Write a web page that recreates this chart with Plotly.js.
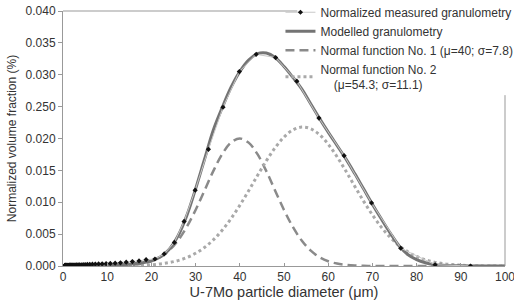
<!DOCTYPE html>
<html><head><meta charset="utf-8">
<script src="https://cdn.plot.ly/plotly-3.0.1.min.js"></script>
<style>html,body{margin:0;padding:0;background:#fff}#c{width:514px;height:303px}</style>
</head><body><div id="c"></div>
<script>
// Measured granulometry (diameter µm, normalized volume fraction)
const measD = [0.42,0.46,0.51,0.56,0.61,0.68,0.74,0.82,0.9,0.99,1.09,1.2,1.32,1.45,1.59,1.75,1.93,2.12,2.33,2.57,2.82,3.1,3.42,3.76,4.13,4.55,5.0,5.5,6.05,6.65,7.32,8.05,8.86,9.75,10.7,11.8,13.0,14.3,15.7,17.2,18.8,20.8,22.9,25.2,27.4,29.9,32.9,36.2,39.9,43.7,48.1,52.9,57.9,63.6,69.8,76.4,84.2,92.2];
const measV = [0.00012,0.00012,0.00012,0.00012,0.00012,0.00012,0.00012,0.00012,0.00012,0.00012,0.00012,0.00012,0.00012,0.00013,0.00013,0.00013,0.00014,0.00014,0.00015,0.00015,0.00016,0.00017,0.00018,0.00019,0.0002,0.00021,0.00022,0.00024,0.00026,0.00028,0.0003,0.00032,0.00034,0.00037,0.0004,0.00045,0.0005,0.0006,0.0007,0.0008,0.0010,0.0011,0.0019,0.0037,0.0070,0.0119,0.0183,0.0249,0.0305,0.0332,0.0327,0.0290,0.0232,0.0173,0.0099,0.0028,0.0002,0.0000];

// Curves sampled every 2 µm (0..100)
const gridD = [0,2,4,6,8,10,12,14,16,18,20,22,24,26,28,30,32,34,36,38,40,42,44,46,48,50,52,54,56,58,60,62,64,66,68,70,72,74,76,78,80,82,84,86,88,90,92,94,96,98,100];
const modelV = [0.00005,0.00006,0.00007,0.00008,0.0001,0.00013,0.00017,0.00024,0.00035,0.0005,0.0008,0.0014,0.0026,0.0047,0.0079,0.0121,0.0167,0.0213,0.0248,0.0280,0.0305,0.0323,0.0333,0.0334,0.0327,0.0313,0.0296,0.0278,0.0255,0.0232,0.0210,0.0189,0.0168,0.0145,0.0121,0.0097,0.0074,0.0052,0.0032,0.0018,0.0010,0.0005,0.0002,0.0001,0.00005,0.00002,0.00001,0,0,0,0];
const norm1V = [0,0,0,0,0,0.00001,0.00003,0.00008,0.00018,0.00038,0.00075,0.00139,0.00244,0.00399,0.00613,0.00879,0.01182,0.01488,0.01754,0.01935,0.0200,0.01935,0.01754,0.01488,0.01182,0.00879,0.00613,0.00399,0.00244,0.00139,0.00075,0.00038,0.00018,0.00008,0.00003,0.00001,0,0,0,0,0,0,0,0,0,0,0,0,0,0,0];
const norm2V = [0,0,0,0,0,0,0.00001,0.00003,0.00005,0.0001,0.00019,0.00032,0.00053,0.00085,0.00132,0.00199,0.0029,0.00409,0.0056,0.00742,0.00951,0.0118,0.01418,0.01649,0.01856,0.02022,0.02134,0.02179,0.02155,0.02062,0.0191,0.01714,0.01489,0.01251,0.01018,0.00802,0.00611,0.00451,0.00322,0.00223,0.0015,0.00097,0.00061,0.00037,0.00022,0.00012,0.00006,0.00003,0.00001,0,0];

const yTickVals = [0,0.005,0.010,0.015,0.020,0.025,0.030,0.035,0.040];
const yTickText = ['0.000','0.005','0.010','0.015','0.020','0.250','0.030','0.035','0.040'];
const xTickVals = [0,10,20,30,40,50,60,70,80,90,100];

const names = ['Normalized measured granulometry','Modelled granulometry','Normal function No. 1 (\u03bc=40; \u03c3=7.8)','Normal function No. 2<br>\u00a0\u00a0\u00a0\u00a0(\u03bc=54.3; \u03c3=11.1)'];

const traces = [
  {x: gridD, y: norm1V, mode:'lines', name:names[2], line:{color:'#8a8a8a', width:2.5, dash:'9px,5px', shape:'spline'}, legendrank:3},
  {x: gridD, y: norm2V, mode:'lines', name:names[3], line:{color:'#a9a9a9', width:3, dash:'dot', shape:'spline'}, legendrank:4},
  {x: gridD, y: modelV, mode:'lines', name:names[1], line:{color:'#747474', width:3, shape:'spline'}, legendrank:2},
  {x: measD, y: measV, mode:'lines+markers', name:names[0], line:{color:'#c8c8c8', width:1}, marker:{symbol:'diamond', size:4, color:'#111'}, legendrank:1}
];

const font = {family:'Liberation Sans, Arial, sans-serif', color:'#333'};
const frame = {color:'#999', width:1};
const layout = {
  width:514, height:303,
  margin:{l:63, r:9, t:11, b:37, autoexpand:false},
  paper_bgcolor:'#fff', plot_bgcolor:'#fff',
  font: Object.assign({size:12}, font),
  showlegend:true,
  legend:{x:0.492, y:1.052, xanchor:'left', yanchor:'top', bgcolor:'rgba(0,0,0,0)', borderwidth:0,
          font:Object.assign({size:12}, font), tracegroupgap:0, itemwidth:30},
  xaxis:{range:[0,100], tickvals:xTickVals, ticks:'inside', ticklen:3, tickcolor:'#999',
         ticklabeloverflow:'allow',
         showgrid:false, zeroline:false, showline:true, linecolor:'#999', linewidth:1,
         tickfont:Object.assign({size:12}, font),
         title:{text:'U-7Mo particle diameter (\u03bcm)', font:Object.assign({size:14.5}, font), standoff:2}},
  yaxis:{range:[0,0.04], tickvals:yTickVals, ticktext:yTickText, ticks:'outside', ticklen:4, tickcolor:'#999',
         showgrid:false, zeroline:false, showline:true, linecolor:'#999', linewidth:1,
         tickfont:Object.assign({size:12}, font),
         title:{text:'Normalized volume fraction (%)', font:Object.assign({size:12}, font), standoff:6}},
  shapes:[
    {type:'line', xref:'paper', yref:'paper', x0:0, x1:0.53, y0:1, y1:1, line:frame},
    {type:'line', xref:'paper', yref:'paper', x0:1, x1:1, y0:0, y1:0.67, line:frame}
  ]
};
Plotly.newPlot('c', traces, layout, {staticPlot:true, displayModeBar:false});
</script></body></html>
